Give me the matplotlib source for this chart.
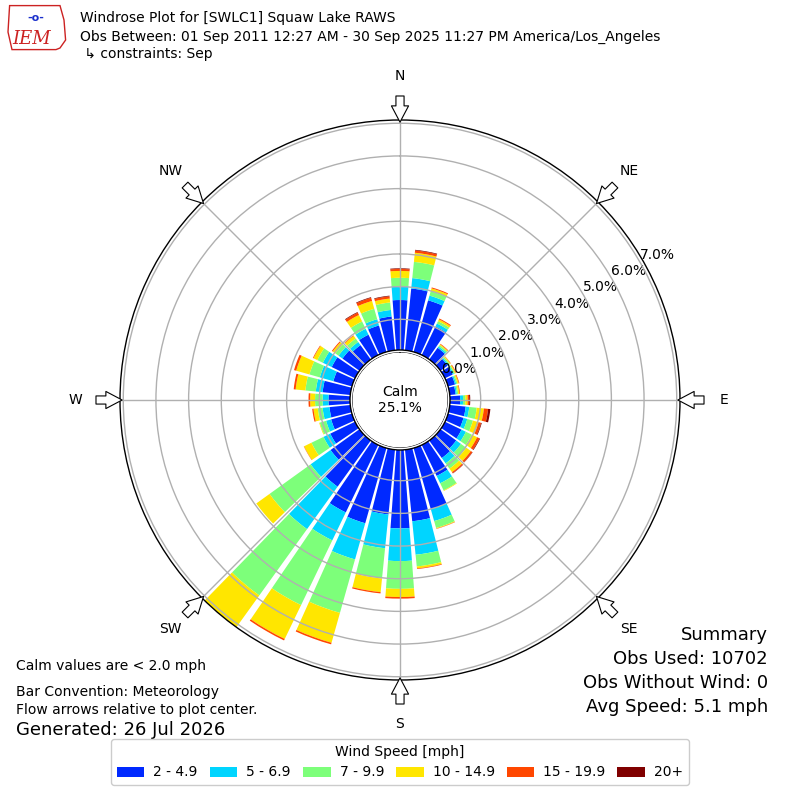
import numpy as np
import matplotlib
matplotlib.use('Agg')
import matplotlib.pyplot as plt
from matplotlib.patches import Circle, Polygon

# ---------------------------------------------------------------
# Data (percent of observations, read off the reference)
# ---------------------------------------------------------------
DIRECTIONS = np.arange(0, 360, 10)

SPEED_LABELS = ['2 - 4.9', '5 - 6.9', '7 - 9.9', '10 - 14.9', '15 - 19.9', '20+']

spd_2_5 = [1.59, 1.96, 1.70, 1.03, 0.50, 0.33, 0.32, 0.28, 0.24, 0.37,
           0.55, 0.55, 0.62, 0.65, 0.72, 1.11, 2.00, 2.26, 2.46, 2.05,
           2.45, 2.35, 1.80, 1.15, 0.90, 0.72, 0.70, 0.72, 0.91, 0.65,
           0.85, 0.70, 0.60, 0.75, 0.90, 1.10]
spd_5_7 = [0.43, 0.32, 0.15, 0.10, 0.05, 0.04, 0.04, 0.04, 0.04, 0.09,
           0.11, 0.12, 0.15, 0.18, 0.20, 0.25, 0.38, 1.03, 1.00, 1.04,
           1.15, 0.95, 1.60, 0.75, 0.23, 0.16, 0.21, 0.18, 0.21, 0.43,
           0.30, 0.15, 0.12, 0.20, 0.20, 0.20]
spd_7_10 = [0.25, 0.50, 0.14, 0.08, 0.05, 0.04, 0.04, 0.04, 0.04, 0.07,
            0.23, 0.18, 0.20, 0.20, 0.20, 0.24, 0.22, 0.36, 0.85, 0.93,
            1.70, 2.20, 2.50, 1.55, 0.41, 0.20, 0.15, 0.23, 0.32, 0.33,
            0.19, 0.12, 0.13, 0.25, 0.33, 0.23]
spd_10_15 = [0.21, 0.28, 0.09, 0.06, 0.03, 0.03, 0.03, 0.04, 0.04, 0.07,
             0.22, 0.18, 0.18, 0.17, 0.13, 0.02, 0.02, 0.06, 0.25, 0.42,
             0.95, 1.15, 1.70, 0.50, 0.25, 0.02, 0.13, 0.15, 0.30, 0.42,
             0.13, 0.10, 0.10, 0.22, 0.25, 0.12]
spd_15_20 = [0.06, 0.07, 0.03, 0.03, 0.02, 0.01, 0.02, 0.02, 0.02, 0.05,
             0.13, 0.08, 0.08, 0.06, 0.04, 0.00, 0.01, 0.02, 0.05, 0.04,
             0.05, 0.05, 0.00, 0.00, 0.01, 0.00, 0.04, 0.05, 0.06, 0.07,
             0.02, 0.03, 0.02, 0.08, 0.10, 0.07]
spd_20 = [0.02, 0.02, 0.00, 0.00, 0.00, 0.00, 0.00, 0.00, 0.00, 0.03,
          0.07, 0.02, 0.02, 0.01, 0.01, 0.00, 0.00, 0.00, 0.00, 0.00,
          0.00, 0.00, 0.00, 0.00, 0.00, 0.00, 0.00, 0.00, 0.00, 0.00,
          0.00, 0.00, 0.00, 0.02, 0.02, 0.02]

CALM_PCT = 25.1
RTICKS = [0, 1, 2, 3, 4, 5, 6, 7]
COMPASS = ['N', 'NE', 'E', 'SE', 'S', 'SW', 'W', 'NW']
COMPASS_DEG = [0, 45, 90, 135, 180, 225, 270, 315]

SPEED_BINS = [spd_2_5, spd_5_7, spd_7_10, spd_10_15, spd_15_20, spd_20]
COLORS = plt.get_cmap('jet')(np.linspace(0, 1, 7)[1:])

# ---------------------------------------------------------------
# Figure
# ---------------------------------------------------------------
fig = plt.figure(figsize=(8, 8), dpi=100)
ax = fig.add_axes([0.15, 0.15, 0.70, 0.70], projection='polar')
ax.set_theta_zero_location('N')
ax.set_theta_direction(-1)

theta = np.deg2rad(DIRECTIONS)
bottom = np.zeros(len(DIRECTIONS))
handles = []
for vals, color, label in zip(SPEED_BINS, COLORS, SPEED_LABELS):
    vals = np.asarray(vals)
    h = ax.bar(theta, vals, width=np.deg2rad(8.5), bottom=bottom,
               color=color, edgecolor='none', label=label, zorder=1)
    handles.append(h)
    bottom += vals

ax.set_ylim(0, 7.1)
ax.set_rorigin(-1.47)
ax.set_yticks(RTICKS)
ax.set_yticklabels([f'{v:.1f}%' for v in RTICKS], fontsize=10)
ax.set_rlabel_position(60)
ax.set_xticks(np.deg2rad(COMPASS_DEG))
ax.set_xticklabels([])
ax.set_axisbelow(False)
ax.grid(True, color='#b0b0b0', linewidth=1)
ax.spines['polar'].set_linewidth(1)

# calm circle
ax.add_patch(Circle((0.5, 0.5), 50 / 560, transform=ax.transAxes,
                    facecolor='white', edgecolor='black', lw=1, zorder=5))
ax.text(0.5, 0.5, f'Calm\n{CALM_PCT:.1f}%', transform=ax.transAxes,
        ha='center', va='center', fontsize=10, zorder=6)

# compass labels and flow arrows
for name, deg in zip(COMPASS, COMPASS_DEG):
    t = np.deg2rad(deg)
    ax.text(t, 8.45, name, ha='center', va='center', fontsize=10,
            clip_on=False)
    ax.annotate('', xy=(t, 6.95), xytext=(t, 7.92),
                arrowprops=dict(arrowstyle='simple,head_length=0.9,'
                                'head_width=0.95,tail_width=0.45',
                                fc='white', ec='black', lw=0.8,
                                mutation_scale=13),
                annotation_clip=False, zorder=7)

# ---------------------------------------------------------------
# Header / logo
# ---------------------------------------------------------------
logo = Polygon([(0.012, 0.993), (0.075, 0.993), (0.080, 0.975),
                (0.082, 0.950), (0.075, 0.940), (0.070, 0.938),
                (0.015, 0.938), (0.010, 0.960)],
               closed=True, transform=fig.transFigure, fill=False,
               edgecolor='#cc2222', lw=1)
fig.patches.append(logo)
fig.text(0.040, 0.951, 'IEM', color='#cc2222', fontsize=13,
         family='DejaVu Serif', style='italic', ha='center', va='center')
fig.text(0.045, 0.978, '-o-', color='#1a2fcc', fontsize=8,
         ha='center', va='center', fontweight='bold')

fig.text(0.10, 0.977, 'Windrose Plot for [SWLC1] Squaw Lake RAWS',
         fontsize=10, va='center')
fig.text(0.10, 0.954, 'Obs Between: 01 Sep 2011 12:27 AM - 30 Sep 2025 '
         '11:27 PM America/Los_Angeles', fontsize=10, va='center')
fig.text(0.10, 0.933, ' \u21b3 constraints: Sep', fontsize=10, va='center')

# ---------------------------------------------------------------
# Footer text
# ---------------------------------------------------------------
fig.text(0.02, 0.168, 'Calm values are < 2.0 mph', fontsize=10, va='center')
fig.text(0.02, 0.135, 'Bar Convention: Meteorology', fontsize=10, va='center')
fig.text(0.02, 0.112, 'Flow arrows relative to plot center.', fontsize=10,
         va='center')
fig.text(0.02, 0.088, 'Generated: 26 Jul 2026', fontsize=13, va='center')

for i, line in enumerate(['Summary', 'Obs Used: 10702',
                          'Obs Without Wind: 0', 'Avg Speed: 5.1 mph']):
    fig.text(0.96, 0.206 - i * 0.030, line, fontsize=13, ha='right',
             va='center')

fig.legend(handles=handles, labels=SPEED_LABELS, loc='lower center',
           bbox_to_anchor=(0.5, 0.010), ncol=6, title='Wind Speed [mph]',
           fontsize=10, title_fontsize=10, handlelength=2.0,
           handletextpad=0.65, columnspacing=0.85, framealpha=1)

fig.savefig('out.png', dpi=100)
